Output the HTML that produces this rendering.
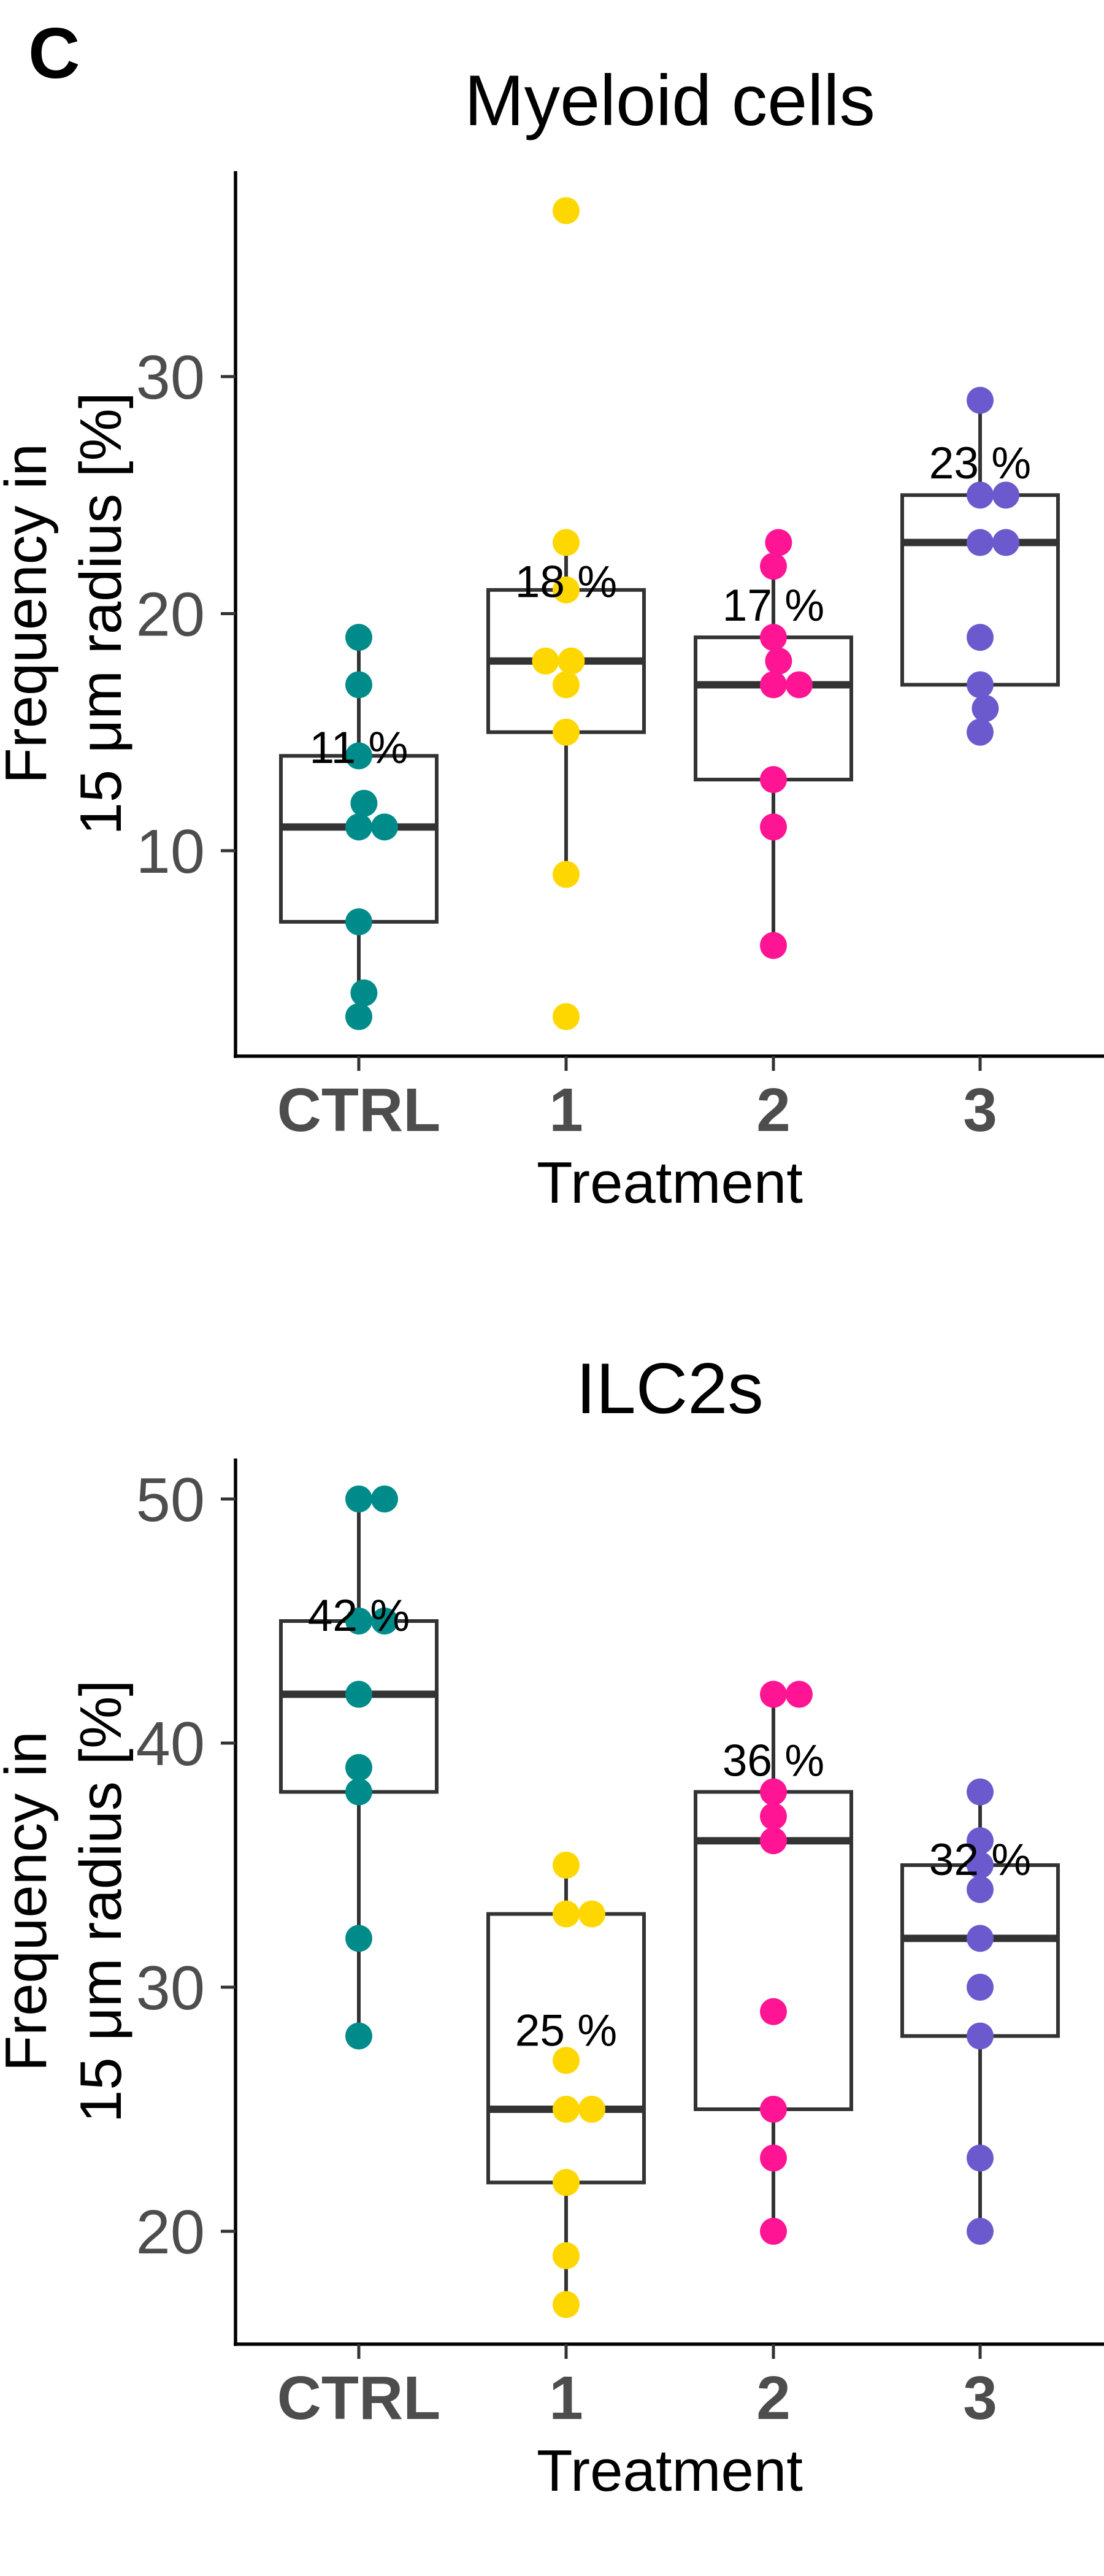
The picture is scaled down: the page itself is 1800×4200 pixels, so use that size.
<!DOCTYPE html>
<html><head><meta charset="utf-8"><style>
html,body{margin:0;padding:0;background:#fff;}
svg{display:block;font-family:"Liberation Sans",Arial,sans-serif;}
</style></head><body>
<svg id="fig" width="1800" height="4200" viewBox="0 0 1800 4200" xmlns="http://www.w3.org/2000/svg">
<text x="46" y="127" font-size="117" font-weight="bold">C</text>
</svg>
<script>
const categories = ["CTRL", "1", "2", "3"];
const colors = ["#008B8B", "#FFD700", "#FF1493", "#6A5ACD"];

// Panel 1: Myeloid cells
const myeloidValues = [
  [19, 17, 14, 12, 11, 11, 7, 4, 3],
  [37, 23, 21, 18, 18, 17, 15, 9, 3],
  [23, 22, 19, 18, 17, 17, 13, 11, 6],
  [29, 25, 25, 23, 23, 19, 17, 16, 15]
];
const myeloidDodge = [
  [0, 0, 0, 0.2, 0, 1, 0, 0.2, 0],
  [0, 0, 0, -0.8, 0.2, 0, 0, 0, 0],
  [0.2, 0, 0, 0.2, 0, 1, 0, 0, 0],
  [0, 0, 1, 0, 1, 0, 0, 0.2, 0]
];
const myeloidQ1 = [7, 15, 13, 17];
const myeloidMedian = [11, 18, 17, 23];
const myeloidQ3 = [14, 21, 19, 25];
const myeloidWhiskLo = [3, 9, 6, 15];
const myeloidWhiskHi = [19, 23, 23, 29];
const myeloidLabels = ["11 %", "18 %", "17 %", "23 %"];
const myeloidLabelY = [13.7, 20.7, 19.7, 25.7];
const myeloidTicks = [10, 20, 30];

// Panel 2: ILC2s
const ilcValues = [
  [50, 50, 45, 45, 42, 39, 38, 32, 28],
  [35, 33, 33, 27, 25, 25, 22, 19, 17],
  [42, 42, 38, 37, 36, 29, 25, 23, 20],
  [38, 36, 35, 34, 32, 30, 28, 23, 20]
];
const ilcDodge = [
  [0, 1, 0, 1, 0, 0, 0, 0, 0],
  [0, 0, 1, 0, 0, 1, 0, 0, 0],
  [0, 1, 0, 0, 0, 0, 0, 0, 0],
  [0, 0, 0, 0, 0, 0, 0, 0, 0]
];
const ilcQ1 = [38, 22, 25, 28];
const ilcMedian = [42, 25, 36, 32];
const ilcQ3 = [45, 33, 38, 35];
const ilcWhiskLo = [28, 17, 20, 20];
const ilcWhiskHi = [50, 35, 42, 38];
const ilcLabels = ["42 %", "25 %", "36 %", "32 %"];
const ilcLabelY = [44.6, 27.6, 38.65, 34.6];
const ilcTicks = [20, 30, 40, 50];

const NS = "http://www.w3.org/2000/svg";
const svg = document.getElementById("fig");
function mk(tag, attrs, parent) {
  const e = document.createElementNS(NS, tag);
  for (const k in attrs) e.setAttribute(k, attrs[k]);
  (parent || svg).appendChild(e);
  return e;
}
const catX = [585, 923, 1261, 1598];
const AX_LEFT = 384, AX_RIGHT = 1800, HALF = 127, DODGE = 42, R = 22;

function panel(cfg) {
  const g = mk("g", {});
  
  
  const y = v => cfg.y0 - (v - cfg.v0) * cfg.pxPerUnit;
  const x = i => catX[i];
  // title
  const t = mk("text", {x: 1092, y: cfg.titleY, "font-size": 117, "text-anchor": "middle", fill: "#000"}, g);
  t.textContent = cfg.title;
  
  
  // boxes
  for (let i = 0; i < categories.length; i++) {
    const w = mk("line", {x1: x(i), x2: x(i), y1: y(cfg.whiskHi[i]), y2: y(cfg.whiskLo[i]), stroke: "#333", "stroke-width": 6}, g);
    
    
    const b = mk("rect", {x: x(i) - HALF, y: y(cfg.q3[i]), width: 2 * HALF, height: y(cfg.q1[i]) - y(cfg.q3[i]), fill: "#fff", stroke: "#333", "stroke-width": 6}, g);
    
    
    const m = mk("line", {x1: x(i) - HALF, x2: x(i) + HALF, y1: y(cfg.median[i]), y2: y(cfg.median[i]), stroke: "#333", "stroke-width": 12}, g);
    
    
  }
  // points
  for (let i = 0; i < categories.length; i++) {
    cfg.values[i].forEach((v, j) => {
      const c = mk("circle", {cx: x(i) + cfg.dodge[i][j] * DODGE, cy: y(v), r: R, fill: colors[i]}, g);
      
      
    });
  }
  // labels
  for (let i = 0; i < categories.length; i++) {
    const l = mk("text", {x: x(i), y: y(cfg.labelY[i]), "font-size": 73, "text-anchor": "middle", fill: "#000"}, g);
    l.textContent = cfg.labels[i];
    
    
  }
  // axes
  const ya = mk("line", {x1: AX_LEFT, x2: AX_LEFT, y1: cfg.axTop, y2: cfg.axBottom + 3, stroke: "#000", "stroke-width": 5.5}, g);
  
  
  const xa = mk("line", {x1: AX_LEFT - 3, x2: AX_RIGHT, y1: cfg.axBottom, y2: cfg.axBottom, stroke: "#000", "stroke-width": 5.5}, g);
  
  
  cfg.ticks.forEach(tv => {
    const tk = mk("line", {x1: AX_LEFT - 24, x2: AX_LEFT, y1: y(tv), y2: y(tv), stroke: "#333", "stroke-width": 5}, g);
    
    
    const tl = mk("text", {x: 334, y: y(tv) + 36, "font-size": 101, "text-anchor": "end", fill: "#4d4d4d"}, g);
    tl.textContent = String(tv);
    
    
  });
  for (let i = 0; i < categories.length; i++) {
    const tk = mk("line", {x1: x(i), x2: x(i), y1: cfg.axBottom, y2: cfg.axBottom + 24, stroke: "#333", "stroke-width": 5}, g);
    
    
    const tl = mk("text", {x: x(i), y: cfg.axBottom + 122, "font-size": 100, "font-weight": "bold", "text-anchor": "middle", fill: "#4d4d4d"}, g);
    tl.textContent = categories[i];
    
    
  }
  const xt = mk("text", {x: 1092, y: cfg.axBottom + 239, "font-size": 96, "text-anchor": "middle", fill: "#000"}, g);
  xt.textContent = "Treatment";
  
  
  const cy = (cfg.axTop + cfg.axBottom) / 2;
  const yt = mk("text", {transform: "translate(75," + cy + ") rotate(-90)", "font-size": 96, "text-anchor": "middle", fill: "#000"}, g);
  
  
  const s1 = mk("tspan", {x: 0, y: 0}, yt); s1.textContent = "Frequency in";
  const s2 = mk("tspan", {x: 0, y: 122}, yt); s2.textContent = "15 μm radius [%]";
}

panel({name: "myeloid-panel", title: "Myeloid cells", titleY: 204, axTop: 279, axBottom: 1722,
  v0: 10, y0: 1387, pxPerUnit: 38.65, ticks: myeloidTicks,
  values: myeloidValues, dodge: myeloidDodge, q1: myeloidQ1, median: myeloidMedian, q3: myeloidQ3,
  whiskLo: myeloidWhiskLo, whiskHi: myeloidWhiskHi, labels: myeloidLabels, labelY: myeloidLabelY});
panel({name: "ilc2-panel", title: "ILC2s", titleY: 2304, axTop: 2378, axBottom: 3822,
  v0: 20, y0: 3638, pxPerUnit: 39.8, ticks: ilcTicks,
  values: ilcValues, dodge: ilcDodge, q1: ilcQ1, median: ilcMedian, q3: ilcQ3,
  whiskLo: ilcWhiskLo, whiskHi: ilcWhiskHi, labels: ilcLabels, labelY: ilcLabelY});
</script>
</body></html>
